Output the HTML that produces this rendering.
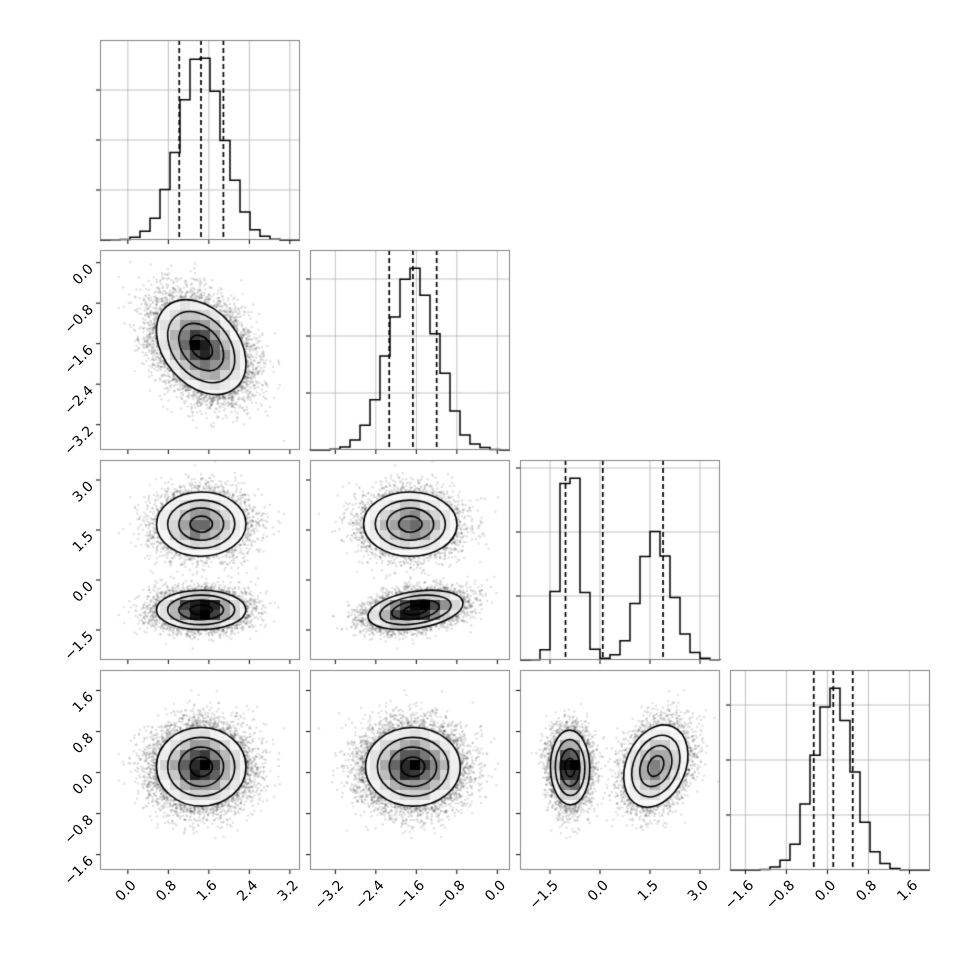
<!DOCTYPE html>
<html><head><meta charset="utf-8"><style>
html,body{margin:0;padding:0;background:#fff;width:970px;height:970px;overflow:hidden}
#c{position:absolute;left:0;top:0}
#s{position:absolute;left:0;top:0}
</style></head><body>
<canvas id="c" width="970" height="970"></canvas>
<svg id="s" width="970" height="970" xmlns="http://www.w3.org/2000/svg" font-family="DejaVu Sans, Liberation Sans, sans-serif" font-size="14" fill="#000">
<g id="labels"></g>
</svg>
<script>
var xt=[[0,0.8,1.6,2.4,3.2],[-3.2,-2.4,-1.6,-0.8,0],[-1.5,0,1.5,3.0],[-1.6,-0.8,0,0.8,1.6]];
(function(){
const cv=document.getElementById('c'),ctx=cv.getContext('2d');
let seed=12345;function rnd(){seed|=0;seed=seed+0x6D2B79F5|0;let t=Math.imul(seed^seed>>>15,1|seed);t=t+Math.imul(t^t>>>7,61|t)^t;return((t^t>>>14)>>>0)/4294967296;}
function gn(){let u=rnd()||1e-9,v=rnd();return Math.sqrt(-2*Math.log(u))*Math.cos(2*Math.PI*v);}
const R=[[-0.55,3.4],[-3.7,0.25],[-2.4,3.6],[-1.9,2.0]];
const N=12000;const S=[],C=[];
for(let i=0;i<N;i++){
 const z0=gn(),z1=gn(),z2=gn(),z3=gn();
 const v0=1.45+0.44*z0;
 const comp=(i%2===0)?0:1;
 let v1,v2,v3;
 if(comp===0){v1=-1.62+0.47*(-0.35*z0+0.937*z1);v2=-0.9+0.3*(0.35*z1+0.937*z2);v3=0.1+0.36*z3;}
 else{v1=-1.72+0.47*(-0.35*z0+0.937*z1);v2=1.68+0.48*z2;v3=0.12+0.4*(0.25*z2+0.968*z3);}
 S.push([v0,v1,v2,v3]);C.push(comp);
}
const L=i=>100+210*i, T=i=>40+210*i;
function px(v,k,col){return L(col)+(v-R[k][0])/(R[k][1]-R[k][0])*200;}
function py(v,k,row){return T(row)+200-(v-R[k][0])/(R[k][1]-R[k][0])*200;}
ctx.lineCap='butt';
for(let r=1;r<4;r++)for(let c=0;c<r;c++){
 const x0=L(c),y0=T(r);
 ctx.save();ctx.beginPath();ctx.rect(x0,y0,200,200);ctx.clip();
 ctx.fillStyle='rgba(0,0,0,0.13)';
 const P=[];
 for(let i=0;i<N;i++){const X=px(S[i][c],c,c),Y=py(S[i][r],r,r);P.push([X,Y]);ctx.beginPath();ctx.arc(X,Y,1.2,0,6.283);ctx.fill();}
 const split=(c===2||r===2);
 const groups=split?[0,1]:[-1];
 const ells=[];
 groups.forEach(g=>{let n=0,mx=0,my=0;for(let i=0;i<N;i++){if(g>=0&&C[i]!==g)continue;n++;mx+=P[i][0];my+=P[i][1];}
  mx/=n;my/=n;let sxx=0,syy=0,sxy=0;for(let i=0;i<N;i++){if(g>=0&&C[i]!==g)continue;const dx=P[i][0]-mx,dy=P[i][1]-my;sxx+=dx*dx;syy+=dy*dy;sxy+=dx*dy;}
  sxx/=n;syy/=n;sxy/=n;const tr=(sxx+syy)/2,d=Math.sqrt(((sxx-syy)/2)**2+sxy*sxy);const l1=tr+d,l2=tr-d;const ang=0.5*Math.atan2(2*sxy,sxx-syy);
  ells.push({mx,my,a:Math.sqrt(l1),b:Math.sqrt(l2),ang});});
 ctx.save();ctx.beginPath();ells.forEach(e=>{ctx.moveTo(e.mx+2*e.a*Math.cos(e.ang),e.my+2*e.a*Math.sin(e.ang));ctx.ellipse(e.mx,e.my,2*e.a,2*e.b,e.ang,0,6.283);});ctx.clip();
 ctx.fillStyle='#fff';ctx.fillRect(x0,y0,200,200);
 const H=new Array(400).fill(0);for(let i=0;i<N;i++){const bx=Math.floor((P[i][0]-x0)/10),by=Math.floor((P[i][1]-y0)/10);if(bx>=0&&bx<20&&by>=0&&by<20)H[by*20+bx]++;}
 const mh=Math.max(...H);
 for(let by=0;by<20;by++)for(let bx=0;bx<20;bx++){const f=H[by*20+bx]/mh;const g=Math.round(255*(1-Math.pow(f,1.6)));ctx.fillStyle=`rgb(${g},${g},${g})`;ctx.fillRect(x0+bx*10,y0+by*10,10.5,10.5);}
 ctx.restore();
 ctx.strokeStyle='#000';ctx.lineWidth=1.6;
 ells.forEach(e=>{[0.5,1,1.5,2].forEach(s=>{ctx.beginPath();ctx.ellipse(e.mx,e.my,s*e.a,s*e.b,e.ang,0,6.283);ctx.stroke();});});
 ctx.restore();
}
const gsp=[50,57,64,55];
for(let k=0;k<4;k++){
 const x0=L(k),y0=T(k);
 ctx.strokeStyle='#b0b0b0';ctx.lineWidth=0.8;
 for(let j=1;j<4;j++){const y=y0+200-gsp[k]*j;if(y>y0){ctx.beginPath();ctx.moveTo(x0,y);ctx.lineTo(x0+200,y);ctx.stroke();}}
 xt[k].forEach(v=>{const x=px(v,k,k);ctx.beginPath();ctx.moveTo(x,y0);ctx.lineTo(x,y0+200);ctx.stroke();});
 const H=new Array(20).fill(0);const vals=S.map(s=>s[k]);vals.forEach(v=>{const b=Math.floor((v-R[k][0])/(R[k][1]-R[k][0])*20);if(b>=0&&b<20)H[b]++;});
 const mh=Math.max(...H)*1.1;
 ctx.strokeStyle='#000';ctx.lineWidth=1.5;ctx.beginPath();ctx.moveTo(x0,y0+200);
 for(let b=0;b<20;b++){const y=y0+200-H[b]/mh*200;ctx.lineTo(x0+b*10,y);ctx.lineTo(x0+b*10+10,y);}
 ctx.lineTo(x0+200,y0+200);ctx.stroke();
 vals.sort((a,b)=>a-b);
 ctx.setLineDash([5,3]);ctx.lineWidth=1.7;
 [0.16,0.5,0.84].forEach(q=>{const x=px(vals[Math.floor(q*N)],k,k);ctx.beginPath();ctx.moveTo(x,y0);ctx.lineTo(x,y0+200);ctx.stroke();});
 ctx.setLineDash([]);
 ctx.fillStyle='#000';
 for(let j=1;j<4;j++){const y=y0+200-gsp[k]*j;if(y>y0)ctx.fillRect(x0-4,y-0.5,4,1);}
}
var lab=document.getElementById('labels');
function addText(x,y,t){const e=document.createElementNS('http://www.w3.org/2000/svg','text');e.setAttribute('x',x);e.setAttribute('y',y);e.setAttribute('text-anchor','end');e.setAttribute('transform',`rotate(-45 ${x} ${y})`);e.textContent=t;lab.appendChild(e);}
for(let r=0;r<4;r++)for(let c=0;c<=r;c++){
 const x0=L(c),y0=T(r);
 ctx.strokeStyle='#808080';ctx.lineWidth=1;ctx.strokeRect(x0+0.5,y0+0.5,199,199);
 ctx.fillStyle='#000';
 xt[c].forEach(v=>{const x=px(v,c,c);ctx.fillRect(x-0.5,y0+200,1,4);if(r===3)addText(x+9,y0+216,v.toFixed(1).replace('-','\u2212'));});
 if(c<r){xt[r].forEach(v=>{const y=py(v,r,r);ctx.fillRect(x0-4,y-0.5,4,1);if(c===0)addText(x0-6,y+7,v.toFixed(1).replace('-','\u2212'));});}
}
})();
</script>
</body></html>
